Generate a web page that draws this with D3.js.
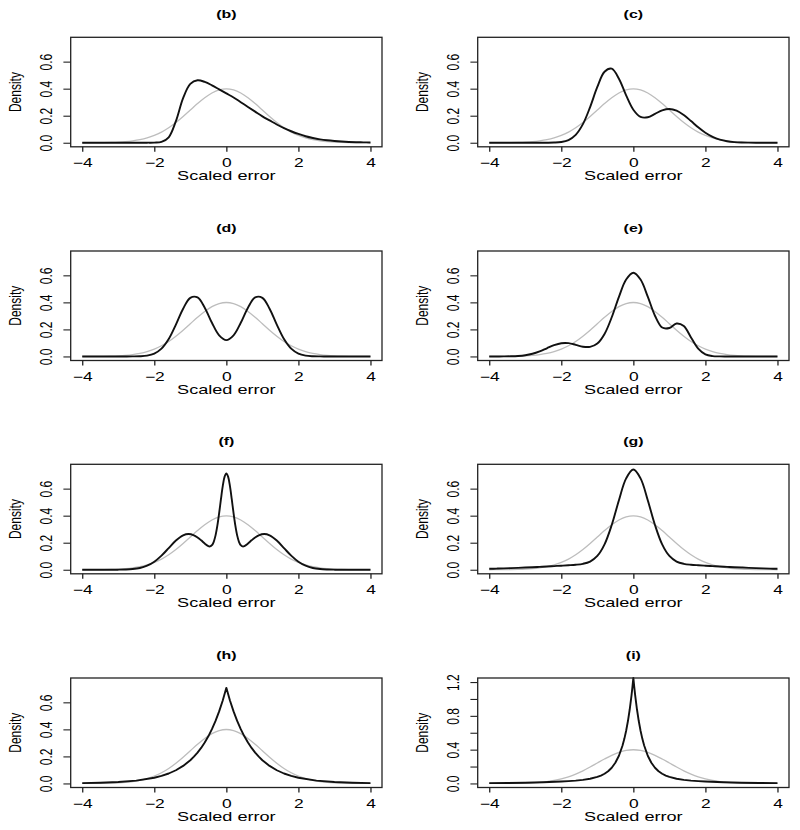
<!DOCTYPE html>
<html><head><meta charset="utf-8">
<script src="https://cdn.jsdelivr.net/npm/d3@7"></script>
<style>
body{margin:0;background:#fff}
svg{display:block}
text{font-family:"Liberation Sans",Arial,Helvetica,sans-serif;fill:#000}
</style>
</head><body>
<svg id="chart" width="800" height="830"></svg>
<script>
// ---------- data ----------
const panelLabels = ["(b)","(c)","(d)","(e)","(f)","(g)","(h)","(i)"];
const xTicks = [-4,-2,0,2,4];
const yTicksStd = [0,0.2,0.4,0.6];
const yTicksI = [0,0.2,0.4,0.6,0.8,1.0,1.2];
const yLabelsI = [0,0.4,0.8,1.2];
const xAxisTitle = "Scaled error";
const yAxisTitle = "Density";

const xGrid = [-4,-3.8,-3.6,-3.4,-3.2,-3,-2.8,-2.6,-2.4,-2.2,-2,-1.8,-1.6,-1.4,-1.2,-1,-0.8,-0.6,-0.4,-0.2,0,
  0.2,0.4,0.6,0.8,1,1.2,1.4,1.6,1.8,2,2.2,2.4,2.6,2.8,3,3.2,3.4,3.6,3.8,4];

const normalRef = [0.0001,0.0003,0.0006,0.0012,0.0024,0.0044,0.0079,0.0136,0.0224,0.0355,0.0540,0.0790,0.1109,0.1497,0.1942,0.2420,0.2897,0.3332,0.3683,0.3910,0.3989,
  0.3910,0.3683,0.3332,0.2897,0.2420,0.1942,0.1497,0.1109,0.0790,0.0540,0.0355,0.0224,0.0136,0.0079,0.0044,0.0024,0.0012,0.0006,0.0003,0.0001];

const densB = [0,0,0,0,0,0,0,0,0,0.0005,0.001,0.006,0.04,0.16,0.33,0.435,0.462,0.45,0.425,0.395,0.365,
  0.335,0.30,0.265,0.23,0.195,0.165,0.135,0.108,0.085,0.065,0.048,0.035,0.025,0.018,0.013,0.009,0.006,0.004,0.003,0.002];

const densC = [0,0,0,0,0,0,0,0,0.0002,0.0013,0.0057,0.0201,0.0584,0.1376,0.2641,0.4125,0.5256,0.5482,0.4735,0.3505,0.2443,
  0.1911,0.1890,0.2135,0.2396,0.2497,0.2376,0.2051,0.1607,0.1141,0.0736,0.0430,0.0228,0.0110,0.0048,0.0019,0.0007,0.0002,0.0001,0,0];

const densD = [0,0,0,0,0,0,0.0001,0.0003,0.0015,0.0063,0.0210,0.0574,0.1284,0.2354,0.3532,0.4338,0.4366,0.3608,0.2488,0.1559,0.1207,
  0.1559,0.2488,0.3608,0.4366,0.4338,0.3532,0.2354,0.1284,0.0574,0.0210,0.0063,0.0015,0.0003,0.0001,0,0,0,0,0,0];

const densE = [0,0.0001,0.0003,0.0011,0.0034,0.0089,0.0198,0.0374,0.0605,0.0833,0.0979,0.0984,0.0859,0.072,0.071,0.095,0.1661,0.2898,0.4408,0.5689,0.6194,
  0.5686,0.4422,0.3013,0.2139,0.2106,0.2434,0.2244,0.1405,0.0573,0.0150,0.0025,0.0003,0,0,0,0,0,0,0,0];

const densG = [0.0070,0.0085,0.0101,0.0120,0.0141,0.0164,0.0188,0.0215,0.0242,0.0271,0.0300,0.0331,0.0369,0.0439,0.0607,0.1019,0.1877,0.3314,0.5143,0.6760,0.7413,
  0.6760,0.5143,0.3314,0.1877,0.1019,0.0607,0.0439,0.0369,0.0331,0.0300,0.0271,0.0242,0.0215,0.0188,0.0164,0.0141,0.0120,0.0101,0.0085,0.0070];

const xF = [-4,-3.4,-3,-2.8,-2.6,-2.4,-2.2,-2,-1.8,-1.6,-1.4,-1.2,-1.05,-0.9,-0.8,-0.7,-0.6,-0.5,-0.45,-0.4,-0.35,-0.3,-0.25,-0.2,-0.15,-0.1,-0.05,0,
  0.05,0.1,0.15,0.2,0.25,0.3,0.35,0.4,0.45,0.5,0.6,0.7,0.8,0.9,1.05,1.2,1.4,1.6,1.8,2,2.2,2.4,2.6,2.8,3,3.4,4];
const densF = [0,0,0.0005,0.0017,0.0050,0.0130,0.0297,0.0594,0.1042,0.1602,0.2157,0.2546,0.2643,0.2550,0.2391,0.2176,0.1933,0.1744,0.1725,0.1815,0.2069,0.2540,0.3257,0.4185,0.5218,0.6179,0.6866,0.7116,
  0.6866,0.6179,0.5218,0.4185,0.3257,0.2540,0.2069,0.1815,0.1725,0.1744,0.1933,0.2176,0.2391,0.2550,0.2643,0.2546,0.2157,0.1602,0.1042,0.0594,0.0297,0.0130,0.0050,0.0017,0.0005,0,0];

const xH = [-4,-3.5,-3,-2.5,-2,-1.8,-1.6,-1.4,-1.2,-1,-0.9,-0.8,-0.7,-0.6,-0.5,-0.4,-0.3,-0.2,-0.1,0,
  0.1,0.2,0.3,0.4,0.5,0.6,0.7,0.8,0.9,1,1.2,1.4,1.6,1.8,2,2.5,3,3.5,4];
const densH = [0.0025,0.0050,0.0102,0.0206,0.0418,0.0555,0.0736,0.0976,0.1295,0.1719,0.1980,0.2281,0.2627,0.3027,0.3487,0.4016,0.4626,0.5329,0.6138,0.7071,
  0.6138,0.5329,0.4626,0.4016,0.3487,0.3027,0.2627,0.2281,0.1980,0.1719,0.1295,0.0976,0.0736,0.0555,0.0418,0.0206,0.0102,0.0050,0.0025];

const xI = [-4,-3.5,-3,-2.5,-2,-1.8,-1.6,-1.4,-1.2,-1,-0.9,-0.8,-0.7,-0.6,-0.5,-0.4,-0.3,-0.25,-0.2,-0.15,-0.1,-0.05,-0.025,0,
  0.025,0.05,0.1,0.15,0.2,0.25,0.3,0.4,0.5,0.6,0.7,0.8,0.9,1,1.2,1.4,1.6,1.8,2,2.5,3,3.5,4];
const densI = [0.0036,0.0056,0.0089,0.0140,0.0225,0.0275,0.0339,0.0428,0.0560,0.0772,0.0931,0.1146,0.1443,0.1857,0.2443,0.3280,0.4486,0.5279,0.6234,0.7388,0.8780,1.0464,1.1433,1.25,
  1.1433,1.0464,0.8780,0.7388,0.6234,0.5279,0.4486,0.3280,0.2443,0.1857,0.1443,0.1146,0.0931,0.0772,0.0560,0.0428,0.0339,0.0275,0.0225,0.0140,0.0089,0.0056,0.0036];

// ---------- layout ----------
const colLeft = [70.7, 477.7];
const boxW = 311.3;
const rowTop = [37.3, 251, 464.3, 678];
const boxH = 109.5;
const SX = 1.45; // horizontal text stretch

const panels = [
  {label: panelLabels[0], xs: xGrid, ys: densB, kind: "std", curve: "smooth"},
  {label: panelLabels[1], xs: xGrid, ys: densC, kind: "std", curve: "smooth"},
  {label: panelLabels[2], xs: xGrid, ys: densD, kind: "std", curve: "smooth"},
  {label: panelLabels[3], xs: xGrid, ys: densE, kind: "std", curve: "smooth"},
  {label: panelLabels[4], xs: xF, ys: densF, kind: "std", curve: "smooth"},
  {label: panelLabels[5], xs: xGrid, ys: densG, kind: "std", curve: "smooth"},
  {label: panelLabels[6], xs: xH, ys: densH, kind: "std", curve: "linear"},
  {label: panelLabels[7], xs: xI, ys: densI, kind: "big", curve: "linear"}
];

const svg = d3.select("#chart");

panels.forEach((p, i) => {
  const col = i % 2, row = Math.floor(i / 2);
  const L = colLeft[col], T = rowTop[row];
  const g = svg.append("g");
  const x = d3.scaleLinear().domain([-4.32, 4.32]).range([L, L + boxW]);
  const y = p.kind === "big"
    ? d3.scaleLinear().domain([-0.048, 1.248]).range([T + boxH, T])
    : d3.scaleLinear().domain([-0.03, 0.78]).range([T + boxH, T]);

  // reference normal (grey)
  const lineRef = d3.line().x((d, k) => x(xGrid[k])).y(d => y(d)).curve(d3.curveCatmullRom.alpha(0.5));
  g.append("path").attr("d", lineRef(normalRef))
    .attr("fill", "none").attr("stroke", "#bdbdbd").attr("stroke-width", 1.3);

  // error density (black)
  const line = d3.line().x((d, k) => x(p.xs[k])).y(d => y(d))
    .curve(p.curve === "linear" ? d3.curveLinear : d3.curveCatmullRom.alpha(0.5));
  g.append("path").attr("d", line(p.ys))
    .attr("fill", "none").attr("stroke", "#111").attr("stroke-width", 1.9)
    .attr("stroke-linejoin", "round");

  // box
  g.append("rect").attr("x", L).attr("y", T).attr("width", boxW).attr("height", boxH)
    .attr("fill", "none").attr("stroke", "#222").attr("stroke-width", 1.3);

  // x axis
  const xa = g.append("g").attr("transform", `translate(0,${T + boxH})`)
    .call(d3.axisBottom(x).tickValues(xTicks).tickSize(5).tickSizeOuter(0).tickFormat(d3.format("d")));
  xa.select(".domain").remove();
  xa.selectAll(".tick line").attr("stroke", "#222").attr("stroke-width", 1.3);
  xa.selectAll(".tick text").attr("y", null).attr("dy", null)
    .attr("transform", `translate(0,20) scale(${SX},1)`)
    .style("font-size", "12px").attr("fill", "#000");

  // y axis
  const yt = p.kind === "big" ? yTicksI : yTicksStd;
  const fmt = d3.format(".1f");
  const ya = g.append("g").attr("transform", `translate(${L},0)`)
    .call(d3.axisLeft(y).tickValues(yt).tickSize(7.3).tickSizeOuter(0)
      .tickFormat(d => (p.kind === "big" && !yLabelsI.includes(d)) ? "" : fmt(d)));
  ya.select(".domain").remove();
  ya.selectAll(".tick line").attr("stroke", "#222").attr("stroke-width", 1.1);
  ya.selectAll(".tick text").attr("x", null).attr("dy", null).attr("text-anchor", "middle")
    .attr("transform", `translate(-19,0) scale(${SX},1) rotate(-90)`)
    .style("font-size", "12px").attr("fill", "#000");

  // titles
  g.append("text").attr("text-anchor", "middle")
    .attr("transform", `translate(${L + boxW / 2},${T - 19}) scale(${SX},1)`)
    .style("font-size", "11px").style("font-weight", "bold").text(p.label);
  g.append("text").attr("text-anchor", "middle")
    .attr("transform", `translate(${L + boxW / 2},${T + boxH + 33}) scale(${SX},1)`)
    .style("font-size", "12.5px").text(xAxisTitle);
  g.append("text").attr("text-anchor", "middle")
    .attr("transform", `translate(${L - 50},${T + boxH / 2}) scale(${SX},1) rotate(-90)`)
    .style("font-size", "12px").text(yAxisTitle);
});
</script>
</body></html>
